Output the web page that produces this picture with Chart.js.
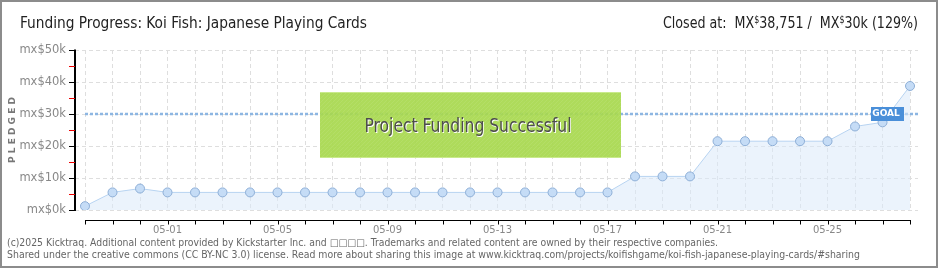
<!DOCTYPE html>
<html>
<head>
<meta charset="utf-8">
<script src="https://cdn.jsdelivr.net/npm/chart.js@4.4.0/dist/chart.umd.min.js"></script>
<style>
  body { margin: 0; background: #fff; }
  #wrap { position: relative; width: 940px; height: 270px; overflow: hidden; }
  #frame { position: absolute; left: 0; top: 0; width: 938px; height: 268px; border: 2px solid #8c8c8c; box-sizing: border-box; pointer-events: none; }
  .txt { position: absolute; white-space: nowrap; transform-origin: 0 50%; }
  #title { left: 20px; top: 13px; font: 16px 'Liberation Sans Narrow', 'DejaVu Sans Condensed', sans-serif; color: #222; }
  #closed { left: 663px; top: 13px; font: 16px 'Liberation Sans Narrow', 'DejaVu Sans Condensed', sans-serif; color: #222; }
  #closed span { font-size: 10px; vertical-align: 5px; }
  .foot { left: 7px; font: 10px 'DejaVu Sans Condensed', 'DejaVu Sans', sans-serif; color: #666; }
  canvas { position: absolute; left: 0; top: 0; }
</style>
</head>
<body>
<div id="wrap">
  <canvas id="chart" width="940" height="270"></canvas>
  <div class="txt" id="title">Funding Progress: Koi Fish: Japanese Playing Cards</div>
  <div class="txt" id="closed">Closed at:&nbsp; MX<span>$</span>38,751 /&nbsp; MX<span>$</span>30k (129%)</div>
  <div class="txt foot" id="foot1" style="top:237px">(c)2025 Kicktraq. Additional content provided by Kickstarter Inc. and □□□□. Trademarks and related content are owned by their respective companies.</div>
  <div class="txt foot" id="foot2" style="top:249px">Shared under the creative commons (CC BY-NC 3.0) license. Read more about sharing this image at www.kicktraq.com/projects/koifishgame/koi-fish-japanese-playing-cards/#sharing</div>
  <div id="frame"></div>
</div>
<script>
// data
const days = ['04-28','04-29','04-30','05-01','05-02','05-03','05-04','05-05','05-06','05-07',
              '05-08','05-09','05-10','05-11','05-12','05-13','05-14','05-15','05-16','05-17',
              '05-18','05-19','05-20','05-21','05-22','05-23','05-24','05-25','05-26','05-27','05-28'];
const pledged = [1200, 5500, 6700, 5500, 5500, 5500, 5500, 5500, 5500, 5500,
                 5500, 5500, 5500, 5500, 5500, 5500, 5500, 5500, 5500, 5500,
                 10500, 10500, 10500, 21500, 21500, 21500, 21500, 21500, 26100, 27400, 38751];
const shownDays = ['05-01','05-05','05-09','05-13','05-17','05-21','05-25'];
const goal = 30000;
const yTicks = [0, 5000, 10000, 15000, 20000, 25000, 30000, 35000, 40000, 45000, 50000];

// stretch html text to the width it has in the picture
function fitWidth(id, w) {
  const el = document.getElementById(id);
  el.style.transform = 'scaleX(' + (w / el.getBoundingClientRect().width) + ')';
}
fitWidth('title', 347);
fitWidth('closed', 255);
fitWidth('foot1', 711);
fitWidth('foot2', 853);

const decor = {
  id: 'decor',
  beforeDatasetsDraw(chart) {
    const { ctx, chartArea, scales: { x, y } } = chart;
    ctx.save();
    // goal line
    const gy = y.getPixelForValue(goal);
    ctx.strokeStyle = '#8db6e2';
    ctx.lineWidth = 2.5;
    ctx.setLineDash([3, 2]);
    ctx.beginPath();
    ctx.moveTo(x.getPixelForValue(0), gy);
    ctx.lineTo(chartArea.right + 2, gy);
    ctx.stroke();
    ctx.setLineDash([]);

    // x axis line sits 10px under the plot
    const ay = chartArea.bottom + 10.5;
    ctx.strokeStyle = '#000';
    ctx.lineWidth = 1;
    ctx.beginPath();
    ctx.moveTo(x.getPixelForValue(0), ay);
    ctx.lineTo(x.getPixelForValue(days.length - 1), ay);
    days.forEach((d, i) => {
      const px = Math.round(x.getPixelForValue(i)) + 0.5;
      ctx.moveTo(px, ay - 0.5);
      ctx.lineTo(px, ay + 4);
    });
    ctx.stroke();

    // y axis line with black major / red minor ticks
    const ax = Math.round(chartArea.left);
    ctx.lineWidth = 2;
    ctx.strokeStyle = '#000';
    ctx.beginPath();
    ctx.moveTo(ax, y.getPixelForValue(50000) - 0.5);
    ctx.lineTo(ax, y.getPixelForValue(0) + 1);
    ctx.stroke();
    ctx.lineWidth = 1;
    yTicks.forEach(v => {
      const py = Math.round(y.getPixelForValue(v)) + 0.5;
      ctx.strokeStyle = v % 10000 === 0 ? '#000' : '#e00';
      ctx.beginPath();
      ctx.moveTo(ax - 6, py);
      ctx.lineTo(ax, py);
      ctx.stroke();
    });

    // success banner
    ctx.globalAlpha = 0.92;
    ctx.fillStyle = '#a7d84d';
    ctx.fillRect(320, 92, 301, 66);
    ctx.globalAlpha = 1;
    ctx.fillStyle = '#c9ea8c';
    ctx.fillRect(320, 92, 301, 1);
    ctx.fillRect(320, 157, 301, 1);
    ctx.save();
    ctx.beginPath();
    ctx.rect(320, 93, 301, 64);
    ctx.clip();
    ctx.strokeStyle = 'rgba(255,255,255,0.07)';
    for (let i = 320 - 70; i < 621; i += 4) {
      ctx.beginPath();
      ctx.moveTo(i, 157);
      ctx.lineTo(i + 64, 93);
      ctx.stroke();
    }
    ctx.restore();
    ctx.font = "19px 'Liberation Sans Narrow', 'DejaVu Sans Condensed', sans-serif";
    ctx.textAlign = 'center';
    ctx.textBaseline = 'middle';
    const tw = ctx.measureText('Project Funding Successful').width;
    ctx.save();
    ctx.translate(468, 127);
    ctx.scale(207 / tw, 1);
    ctx.fillStyle = '#fff';
    ctx.fillText('Project Funding Successful', 1, 1);
    ctx.fillStyle = '#4d4d4d';
    ctx.fillText('Project Funding Successful', 0, 0);
    ctx.restore();
    ctx.restore();
  },
  afterDatasetsDraw(chart) {
    const { ctx, scales: { y } } = chart;
    const gy = y.getPixelForValue(goal);
    ctx.save();
    ctx.fillStyle = '#4a8fd9';
    ctx.fillRect(871, gy - 7, 33, 14);
    ctx.fillStyle = '#fff';
    ctx.font = "bold 9px 'DejaVu Sans', sans-serif";
    ctx.textAlign = 'center';
    ctx.textBaseline = 'middle';
    ctx.fillText('GOAL', 886, gy);
    ctx.restore();
  }
};

new Chart(document.getElementById('chart'), {
  type: 'line',
  data: {
    labels: days,
    datasets: [{
      data: pledged.map((v, i) => ({ x: i, y: v })),
      borderColor: '#b7d3f1',
      borderWidth: 1,
      backgroundColor: 'rgba(218,233,250,0.55)',
      fill: 'origin',
      tension: 0,
      pointRadius: 4.5,
      pointBackgroundColor: '#c5dcf6',
      pointBorderColor: '#8daed6',
      pointBorderWidth: 1
    }]
  },
  options: {
    responsive: false,
    animation: false,
    layout: { padding: { top: 50, right: 22, left: 0, bottom: 0 } },
    plugins: { legend: { display: false }, tooltip: { enabled: false } },
    scales: {
      x: {
        type: 'linear',
        min: -0.364,
        max: 30.29,
        afterFit: s => { s.height = 60; },
        afterBuildTicks: s => { s.ticks = days.map((d, i) => ({ value: i })); },
        border: { display: false, dash: [4, 3] },
        grid: { color: '#dedede', drawTicks: false },
        ticks: {
          autoSkip: false,
          maxRotation: 0,
          padding: 14,
          color: '#888',
          font: { family: 'DejaVu Sans', size: 10 },
          callback: v => shownDays.includes(days[v]) ? days[v] : ''
        }
      },
      y: {
        min: 0,
        max: 50000,
        afterFit: s => { s.width = 75; },
        afterBuildTicks: s => { s.ticks = yTicks.map(v => ({ value: v })); },
        border: { display: false, dash: [4, 3] },
        grid: {
          color: c => c.tick && c.tick.value % 10000 === 0 ? '#dedede' : 'rgba(0,0,0,0)',
          drawTicks: false
        },
        ticks: {
          padding: 9,
          color: '#888',
          font: { family: 'DejaVu Sans', size: 11.5 },
          callback: v => v % 10000 === 0 ? 'mx$' + (v / 1000) + 'k' : ''
        },
        title: {
          display: true,
          text: 'P L E D G E D',
          color: '#777',
          font: { family: 'DejaVu Sans', size: 9, weight: 'bold' },
          padding: { top: 7, bottom: 0 }
        }
      }
    }
  },
  plugins: [decor]
});
</script>
</body>
</html>
